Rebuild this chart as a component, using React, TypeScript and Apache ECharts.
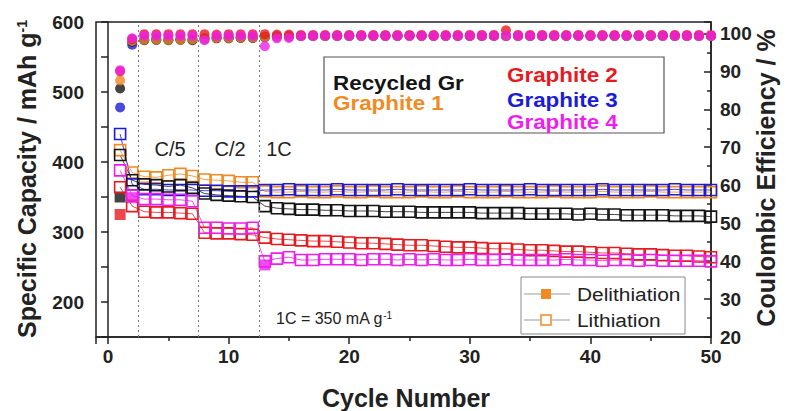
import React, { useEffect, useRef } from 'react';
import * as echarts from 'echarts';

const FF = "'Liberation Sans', Arial, sans-serif";

const cycles = [1, 2, 3, 4, 5, 6, 7, 8, 9, 10, 11, 12, 13, 14, 15, 16, 17, 18, 19, 20, 21, 22, 23, 24, 25, 26, 27, 28, 29, 30, 31, 32, 33, 34, 35, 36, 37, 38, 39, 40, 41, 42, 43, 44, 45, 46, 47, 48, 49, 50];

// Lithiation capacity (open squares), mAh/g
const recycledLith = [410, 374, 368, 367, 365, 367, 363, 355, 353, 352, 351, 350, 337, 334, 333, 332, 332, 331, 331, 330, 330, 330, 329, 329, 329, 328, 328, 328, 328, 328, 327, 327, 327, 327, 326, 326, 326, 326, 325, 326, 325, 325, 324, 324, 324, 324, 323, 323, 323, 322];
const graphite1Lith = [417, 385, 379, 378, 381, 383, 380, 375, 374, 373, 371, 371, 358, 357, 357, 358, 357, 357, 358, 357, 357, 358, 357, 357, 357, 358, 357, 357, 358, 357, 357, 357, 358, 357, 357, 357, 358, 357, 357, 357, 358, 357, 357, 357, 358, 357, 357, 357, 357, 357];
const graphite2Lith = [364, 337, 329, 328, 328, 327, 326, 299, 298, 298, 297, 296, 292, 290, 289, 288, 287, 287, 286, 285, 284, 284, 283, 282, 281, 281, 280, 279, 278, 278, 277, 276, 276, 275, 274, 274, 273, 272, 272, 271, 270, 270, 269, 268, 268, 267, 266, 266, 265, 264];
const graphite3Lith = [440, 368, 361, 361, 360, 360, 360, 359, 359, 358, 358, 358, 360, 360, 361, 360, 360, 360, 361, 360, 360, 360, 360, 361, 360, 360, 360, 360, 360, 361, 360, 360, 360, 360, 361, 360, 360, 360, 360, 360, 361, 360, 360, 360, 360, 360, 361, 360, 360, 360];
const graphite4Lith = [388, 352, 347, 347, 346, 346, 344, 306, 306, 305, 305, 306, 258, 262, 264, 260, 260, 261, 261, 261, 260, 261, 261, 260, 261, 260, 261, 260, 260, 261, 260, 260, 261, 260, 260, 260, 260, 261, 260, 260, 259, 260, 260, 259, 260, 259, 259, 259, 259, 258];

// Delithiation capacity (filled squares) visible points
const recycledDelithCycles = [1];
const recycledDelith = [350];
const graphite2DelithCycles = [1];
const graphite2Delith = [325];
const graphite4DelithCycles = [2, 13];
const graphite4Delith = [349, 253];

// Coulombic efficiency (%)
const recycledCE = [85.5, 97.8, 98.2, 98.3, 98.2, 98.3, 98.2, 98.6, 98.7, 98.7, 98.8, 98.8, 99.0, 99.2, 99.2, 99.3, 99.3, 99.3, 99.3, 99.3, 99.3, 99.3, 99.3, 99.3, 99.4, 99.3, 99.3, 99.3, 99.3, 99.3, 99.3, 99.4, 99.3, 99.3, 99.3, 99.3, 99.3, 99.3, 99.4, 99.3, 99.3, 99.3, 99.3, 99.3, 99.3, 99.4, 99.3, 99.3, 99.3, 99.3];
const graphite1CE = [87.6, 98.0, 98.3, 98.4, 98.3, 98.3, 98.4, 98.7, 98.8, 98.8, 98.9, 98.9, 99.1, 99.2, 99.3, 99.3, 99.3, 99.3, 99.3, 99.3, 99.3, 99.3, 99.3, 99.3, 99.3, 99.3, 99.3, 99.3, 99.3, 99.3, 99.3, 99.3, 99.3, 99.3, 99.3, 99.3, 99.3, 99.3, 99.3, 99.3, 99.3, 99.3, 99.3, 99.3, 99.3, 99.3, 99.3, 99.3, 99.3, 99.3];
const graphite2CE = [90.0, 98.5, 99.8, 99.8, 99.8, 99.8, 99.8, 99.8, 99.7, 99.8, 99.8, 99.8, 99.8, 99.7, 99.7, 99.6, 99.6, 99.6, 99.6, 99.6, 99.6, 99.6, 99.6, 99.6, 99.6, 99.6, 99.6, 99.6, 99.6, 99.6, 99.6, 99.6, 100.8, 99.6, 99.6, 99.6, 99.6, 99.6, 99.6, 99.6, 99.6, 99.6, 99.6, 99.6, 99.6, 99.6, 99.6, 99.6, 99.6, 99.6];
const graphite3CE = [80.5, 97.0, 98.3, 98.4, 98.4, 98.4, 98.4, 98.7, 98.8, 98.8, 98.9, 98.9, 99.1, 99.2, 99.3, 99.3, 99.3, 99.3, 99.3, 99.3, 99.3, 99.3, 99.3, 99.3, 99.3, 99.3, 99.3, 99.3, 99.3, 99.3, 99.3, 99.3, 99.3, 99.3, 99.3, 99.3, 99.3, 99.3, 99.3, 99.3, 99.3, 99.3, 99.3, 99.3, 99.3, 99.3, 99.3, 99.3, 99.3, 99.3];
const graphite4CE = [90.3, 98.7, 99.4, 99.4, 99.4, 99.4, 99.4, 98.2, 99.3, 99.4, 99.4, 99.4, 96.6, 98.7, 98.8, 99.3, 99.4, 99.4, 99.4, 99.4, 99.4, 99.4, 99.4, 99.4, 99.4, 99.4, 99.4, 99.4, 99.4, 99.4, 99.4, 99.4, 99.4, 99.4, 99.4, 99.4, 99.4, 99.4, 99.4, 99.4, 99.4, 99.4, 99.4, 99.4, 99.4, 99.4, 99.4, 99.4, 99.4, 99.4];

const sampleNames = ['Recycled Gr', 'Graphite 1', 'Graphite 2', 'Graphite 3', 'Graphite 4'];
const rateBoundaries = [2.5, 7.5, 12.5];
const rateLabels = ['C/5', 'C/2', '1C'];

const C = {
  black: '#151515',
  orange: '#f08a24',
  red: '#e61a1f',
  blue: '#1c1cd6',
  magenta: '#ee1fee',
};

const pairs = (xs: number[], ys: number[]) => xs.map((x, i) => [x, ys[i]]);

const lithSeries = (name: string, vals: number[], color: string, extra: any = {}) => ({
  name,
  type: 'line',
  xAxisIndex: 0,
  yAxisIndex: 0,
  data: pairs(cycles, vals),
  symbol: 'rect',
  symbolSize: 11,
  showAllSymbol: true,
  clip: false,
  lineStyle: { color, width: 1, opacity: 0.8 },
  itemStyle: { color: 'rgba(255,255,255,0)', borderColor: color, borderWidth: 1.6 },
  emphasis: { disabled: true },
  ...extra,
});

const delithSeries = (name: string, xs: number[], vals: number[], color: string) => ({
  name,
  type: 'scatter',
  yAxisIndex: 0,
  data: pairs(xs, vals),
  symbol: 'rect',
  symbolSize: 11,
  itemStyle: { color },
  emphasis: { disabled: true },
});

const ceSeries = (name: string, vals: number[], color: string) => ({
  name,
  type: 'scatter',
  yAxisIndex: 1,
  data: pairs(cycles, vals),
  symbol: 'circle',
  symbolSize: 10,
  clip: false,
  itemStyle: { color },
  emphasis: { disabled: true },
});

const axisColor = '#222';
const tickLabel = { fontSize: 19, fontWeight: 'bold', color: axisColor, fontFamily: FF };

const option: any = {
  animation: false,
  backgroundColor: '#fff',
  grid: { left: 96, right: 76, top: 22, bottom: 74, show: true, borderColor: axisColor, borderWidth: 1.5, backgroundColor: 'transparent' },
  xAxis: {
    type: 'value',
    min: -1,
    max: 50,
    splitNumber: 5,
    axisLine: { show: true, onZero: false, lineStyle: { color: axisColor, width: 1.5 } },
    axisTick: { show: true, length: 7, lineStyle: { color: axisColor, width: 1.5 } },
    minorTick: { show: true, splitNumber: 2, length: 4, lineStyle: { color: axisColor, width: 1.5 } },
    axisLabel: { ...tickLabel, margin: 10, formatter: (v: number) => (v >= 0 && Math.abs(v % 10) < 1e-6 ? String(Math.round(v)) : '') },
    splitLine: { show: false },
  },
  yAxis: [
    {
      type: 'value',
      position: 'left',
      min: 150,
      max: 600,
      interval: 50,
      axisLine: { show: true, lineStyle: { color: axisColor, width: 1.5 } },
      axisTick: { show: true, length: 7, lineStyle: { color: axisColor, width: 1.5 } },
      axisLabel: { ...tickLabel, margin: 12, formatter: (v: number) => (v >= 200 && v % 100 === 0 ? String(v) : '') },
      splitLine: { show: false },
    },
    {
      type: 'value',
      position: 'right',
      min: 20,
      max: 103,
      interval: 10,
      axisLine: { show: true, lineStyle: { color: axisColor, width: 1.5 } },
      axisTick: { show: true, inside: true, length: 7, lineStyle: { color: axisColor, width: 1.5 } },
      minorTick: { show: true, splitNumber: 2, length: 4, lineStyle: { color: axisColor, width: 1.5 } },
      axisLabel: { ...tickLabel, margin: 9, formatter: (v: number) => (v <= 100 && v % 10 === 0 ? String(v) : '') },
      splitLine: { show: false },
    },
  ],
  series: [
    lithSeries('Graphite 1 Lithiation', graphite1Lith, C.orange, {
      markLine: {
        silent: true,
        symbol: ['none', 'none'],
        label: { show: false },
        lineStyle: { type: [2, 3], color: '#777', width: 1 },
        data: rateBoundaries.map((b) => ({ xAxis: b })),
      },
    }),
    lithSeries('Graphite 3 Lithiation', graphite3Lith, C.blue),
    lithSeries('Recycled Gr Lithiation', recycledLith, C.black),
    lithSeries('Graphite 2 Lithiation', graphite2Lith, C.red),
    lithSeries('Graphite 4 Lithiation', graphite4Lith, C.magenta),
    delithSeries('Recycled Gr Delithiation', recycledDelithCycles, recycledDelith, C.black),
    delithSeries('Graphite 2 Delithiation', graphite2DelithCycles, graphite2Delith, C.red),
    delithSeries('Graphite 4 Delithiation', graphite4DelithCycles, graphite4Delith, C.magenta),
    ceSeries('Graphite 3 CE', graphite3CE, C.blue),
    ceSeries('Recycled Gr CE', recycledCE, C.black),
    ceSeries('Graphite 1 CE', graphite1CE, C.orange),
    ceSeries('Graphite 2 CE', graphite2CE, C.red),
    ceSeries('Graphite 4 CE', graphite4CE, C.magenta),
  ],
  graphic: [
    // axis titles
    {
      type: 'text', x: 27, y: 179, rotation: Math.PI / 2,
      style: {
        text: '{n|Specific Capacity / mAh g}{s|-1}',
        align: 'center', verticalAlign: 'middle',
        rich: {
          n: { fontSize: 25, fontWeight: 'bold', fontFamily: FF, fill: axisColor },
          s: { fontSize: 14, fontWeight: 'bold', fontFamily: FF, fill: axisColor, verticalAlign: 'top' },
        },
      },
    },
    {
      type: 'text', x: 766, y: 178, rotation: Math.PI / 2,
      style: { text: 'Coulombic Efficiency / %', align: 'center', verticalAlign: 'middle', fontSize: 25, fontWeight: 'bold', fontFamily: FF, fill: axisColor },
    },
    {
      type: 'text', x: 406, y: 398,
      style: { text: 'Cycle Number', align: 'center', verticalAlign: 'middle', fontSize: 25, fontWeight: 'bold', fontFamily: FF, fill: axisColor },
    },
    // rate labels
    ...rateLabels.map((t, i) => ({
      type: 'text', x: [170, 230, 279][i], y: 149,
      style: { text: t, align: 'center', verticalAlign: 'middle', fontSize: 20, fontFamily: FF, fill: axisColor },
    })),
    {
      type: 'text', x: 276, y: 318,
      style: {
        text: '{n|1C = 350 mA g}{s|-1}',
        align: 'left', verticalAlign: 'middle',
        rich: {
          n: { fontSize: 16, fontFamily: FF, fill: axisColor },
          s: { fontSize: 10, fontFamily: FF, fill: axisColor, verticalAlign: 'top' },
        },
      },
    },
    // sample legend box
    {
      type: 'rect', shape: { x: 324, y: 57, width: 340, height: 76 }, z: 10,
      style: { fill: '#fff', stroke: '#555', lineWidth: 1.2 },
    },
    ...sampleNames.map((n, i) => ({
      type: 'text', z: 11,
      x: [333, 333, 507, 507, 507][i],
      y: [83.5, 103.5, 75.5, 100, 122.5][i],
      scaleX: 1.15,
      style: {
        text: n, align: 'left', verticalAlign: 'middle', fontSize: 19.5, fontWeight: 'bold', fontFamily: FF,
        fill: [C.black, C.orange, C.red, C.blue, C.magenta][i],
      },
    })),
    // series type legend box
    {
      type: 'rect', shape: { x: 521, y: 277, width: 164, height: 57 }, z: 10,
      style: { fill: '#fff', stroke: '#888', lineWidth: 1 },
    },
    { type: 'line', z: 11, shape: { x1: 524, y1: 294, x2: 570, y2: 294 }, style: { stroke: '#999', lineWidth: 1.2 } },
    { type: 'rect', z: 12, shape: { x: 541, y: 289, width: 10, height: 10 }, style: { fill: C.orange } },
    { type: 'text', z: 11, x: 577, y: 294, scaleX: 1.1, style: { text: 'Delithiation', align: 'left', verticalAlign: 'middle', fontSize: 19, fontFamily: FF, fill: axisColor } },
    { type: 'line', z: 11, shape: { x1: 524, y1: 320, x2: 570, y2: 320 }, style: { stroke: '#999', lineWidth: 1.2 } },
    { type: 'rect', z: 12, shape: { x: 541, y: 315, width: 10, height: 10 }, style: { fill: '#fff', stroke: C.orange, lineWidth: 1.5 } },
    { type: 'text', z: 11, x: 577, y: 320, scaleX: 1.1, style: { text: 'Lithiation', align: 'left', verticalAlign: 'middle', fontSize: 19, fontFamily: FF, fill: axisColor } },
  ],
};

export default function App() {
  const ref = useRef<HTMLDivElement>(null);
  useEffect(() => {
    if (!ref.current) return;
    const chart = echarts.init(ref.current, null, { renderer: 'svg' });
    chart.setOption(option);
    return () => chart.dispose();
  }, []);
  return (
    <div
      ref={ref}
      style={{ position: 'fixed', left: 0, top: 0, width: 787, height: 411, background: '#fff' }}
    />
  );
}
